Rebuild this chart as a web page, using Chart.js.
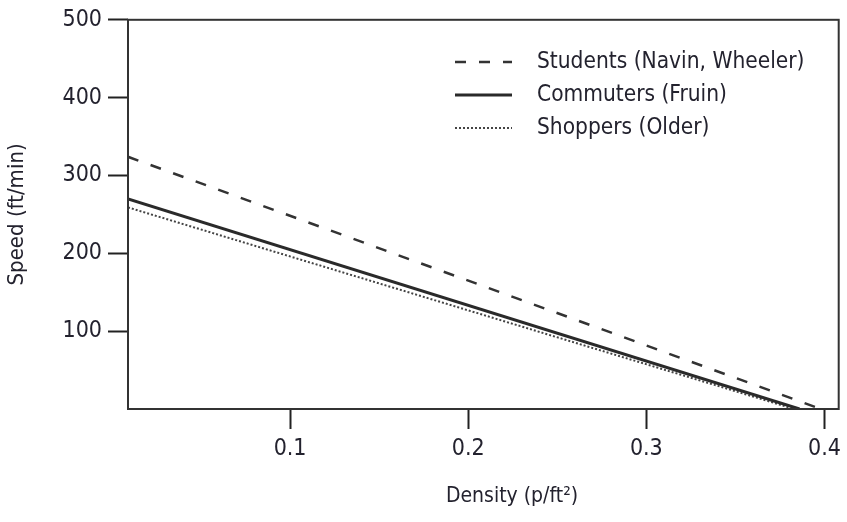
<!DOCTYPE html>
<html>
<head>
<meta charset="utf-8">
<script src="https://cdn.jsdelivr.net/npm/chart.js"></script>
<style>
  html, body { margin: 0; padding: 0; background: #fff; }
  #wrap { width: 847px; height: 522px; }
</style>
</head>
<body>
<div id="wrap"><canvas id="speedChart"></canvas></div>
<script>
// Speed vs density, straight lines
const seriesNames = ['Students (Navin, Wheeler)', 'Commuters (Fruin)', 'Shoppers (Older)'];
const studentsPts = [{ x: 0.009, y: 324 }, { x: 0.398, y: 0 }];
const commutersPts = [{ x: 0.009, y: 270 }, { x: 0.386, y: 0 }];
const shoppersPts = [{ x: 0.009, y: 259 }, { x: 0.383, y: 0 }];
const xTicks = [0.1, 0.2, 0.3, 0.4];
const yTicks = [100, 200, 300, 400, 500];
const xTitle = 'Density (p/ft²)';

const FONT = '"DejaVu Sans Condensed", "Liberation Sans Narrow", sans-serif';
const INK = '#23222e';

// box around plot, x title, legend in the upper right
const framePlugin = {
  id: 'frame',
  afterDraw(chart) {
    const { ctx, chartArea: a } = chart;
    ctx.save();
    ctx.strokeStyle = '#333';
    ctx.lineWidth = 2;
    ctx.strokeRect(a.left, a.top, a.right - a.left, a.bottom - a.top);

    ctx.fillStyle = INK;
    ctx.font = '21px ' + FONT;
    ctx.textAlign = 'center';
    ctx.textBaseline = 'middle';
    ctx.fillText(xTitle, 512, 497);

    // legend
    const x0 = 455, x1 = 512, tx = 537;
    let y = 62;
    ctx.textAlign = 'left';
    chart.data.datasets.forEach(ds => {
      ctx.beginPath();
      ctx.setLineDash(ds.borderDash || []);
      ctx.strokeStyle = ds.borderColor;
      ctx.lineWidth = ds.borderWidth;
      ctx.moveTo(x0, y);
      ctx.lineTo(x1, y);
      ctx.stroke();
      ctx.setLineDash([]);
      ctx.fillStyle = INK;
      ctx.font = '22.5px ' + FONT;
      ctx.fillText(ds.label, tx, y);
      y += 33;
    });
    ctx.restore();
  }
};

new Chart(document.getElementById('speedChart'), {
  type: 'line',
  data: {
    datasets: [
      { label: seriesNames[0], data: studentsPts, borderColor: '#333', borderWidth: 2.5, borderDash: [11, 13], pointRadius: 0 },
      { label: seriesNames[1], data: commutersPts, borderColor: '#2a2a2a', borderWidth: 3, pointRadius: 0 },
      { label: seriesNames[2], data: shoppersPts, borderColor: '#444', borderWidth: 2, borderDash: [2, 2], pointRadius: 0 }
    ]
  },
  options: {
    responsive: true,
    maintainAspectRatio: false,
    animation: false,
    layout: { padding: { top: 18, right: 5, left: 0, bottom: 0 } },
    plugins: {
      legend: { display: false },
      tooltip: { enabled: false }
    },
    scales: {
      x: {
        type: 'linear',
        min: 0.009,
        max: 0.408,
        afterBuildTicks: axis => { axis.ticks = xTicks.map(v => ({ value: v })); },
        afterFit: axis => { axis.height = 113; },
        border: { display: false },
        grid: { drawOnChartArea: false, tickLength: 20, tickColor: '#222', tickWidth: 2 },
        ticks: {
          color: INK,
          font: { family: FONT, size: 23 },
          padding: 6,
          maxRotation: 0,
          callback: v => String(v)
        }
      },
      y: {
        min: 0,
        max: 500,
        afterBuildTicks: axis => { axis.ticks = yTicks.map(v => ({ value: v })); },
        afterFit: axis => { axis.width = 128; },
        border: { display: false },
        grid: { drawOnChartArea: false, tickLength: 20, tickColor: '#222', tickWidth: 2 },
        ticks: {
          color: INK,
          font: { family: FONT, size: 23 },
          padding: 6
        },
        title: {
          display: true,
          text: 'Speed (ft/min)',
          color: INK,
          font: { family: FONT, size: 22 },
          padding: { bottom: 0 }
        }
      }
    }
  },
  plugins: [framePlugin]
});
</script>
</body>
</html>
